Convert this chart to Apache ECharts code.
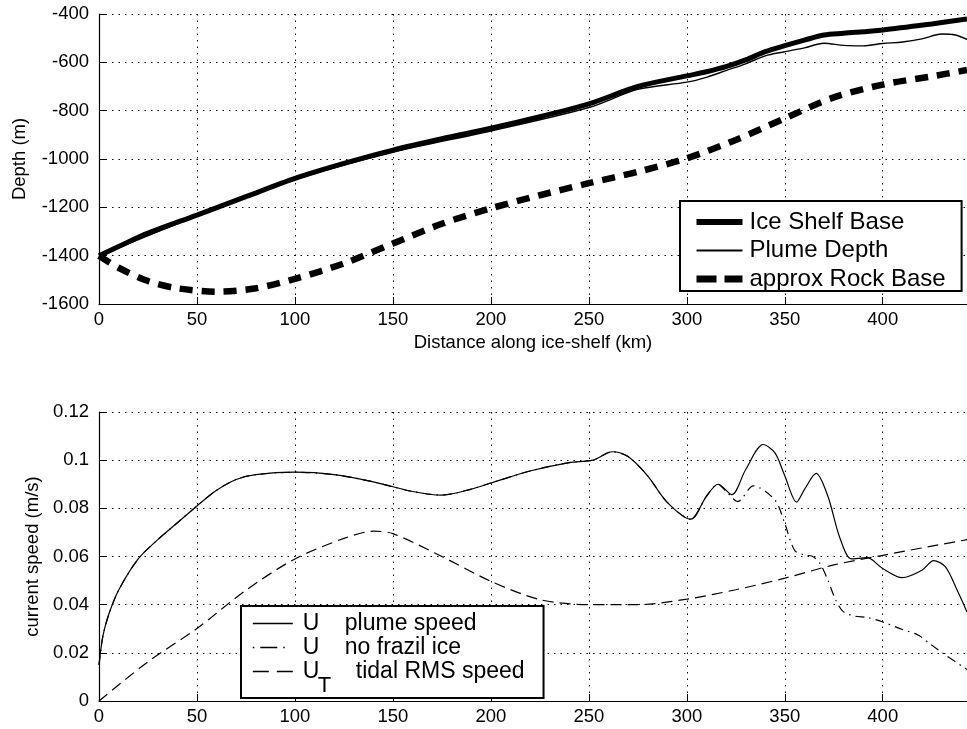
<!DOCTYPE html>
<html>
<head>
<meta charset="utf-8">
<title>Ice shelf plume</title>
<script src="https://cdn.jsdelivr.net/npm/echarts@6/dist/echarts.min.js"></script>
<style>
  html, body { margin: 0; padding: 0; background: #fff; }
  #chart { width: 967px; height: 729px; }
</style>
</head>
<body>
<div id="chart"></div>
<script>
// top panel, depth (m) against distance along the ice shelf (km)
const iceX = [0, 10, 25, 50, 75, 100, 125, 150, 175, 200, 225, 250, 275, 300, 310, 320, 330, 340, 350, 360, 370, 380, 400, 425, 443];
const iceBase = [-1400, -1362, -1307, -1232, -1156, -1080, -1018, -963, -916, -873, -825, -772, -700, -656, -639, -618, -590, -556, -531, -508, -487, -480, -466, -441, -421];

const plumeX = [0, 50, 100, 150, 200, 250, 275, 300, 310, 320, 330, 340, 350, 360, 370, 380, 390, 400, 410, 420, 430, 437, 443];
const plumeDepth = [-1400, -1236, -1085, -972, -884, -787, -712, -682, -662, -634, -606, -573, -556, -540, -521, -530, -532, -522, -516, -503, -483, -487, -505];

const rockX = [0, 10, 25, 40, 60, 80, 100, 125, 150, 175, 200, 225, 250, 275, 300, 325, 350, 375, 400, 425, 443];
const rockBase = [-1400, -1450, -1505, -1535, -1549, -1535, -1496, -1432, -1350, -1268, -1204, -1150, -1100, -1053, -997, -921, -832, -745, -692, -658, -632];

// bottom panel, current speed (m/s)
const speedX = [0, 2, 5, 10, 20, 30, 40, 50, 60, 70, 80, 100, 120, 140, 160, 175, 190, 200, 220, 240, 252, 262, 270, 280, 290, 302, 310, 316, 323, 330, 339, 345, 350, 356, 360, 366, 372, 378, 384, 392, 400, 410, 420, 426, 432, 438, 443];
const plumeSpeed = [0.015, 0.027, 0.036, 0.046, 0.059, 0.067, 0.074, 0.081, 0.0875, 0.092, 0.094, 0.095, 0.094, 0.091, 0.087, 0.0855, 0.088, 0.0905, 0.0955, 0.099, 0.1, 0.1035, 0.1015, 0.0935, 0.0825, 0.0755, 0.085, 0.09, 0.0857, 0.096, 0.1065, 0.103, 0.0935, 0.0826, 0.0878, 0.0945, 0.085, 0.068, 0.059, 0.0595, 0.055, 0.0512, 0.0543, 0.0583, 0.0557, 0.046, 0.037];

const noFrazilX = [0, 2, 5, 10, 20, 30, 40, 50, 60, 70, 80, 100, 120, 140, 160, 175, 190, 200, 220, 240, 252, 262, 270, 280, 290, 302, 310, 316, 320, 326, 334, 345, 350, 355, 360, 364, 368, 372, 376, 380, 386, 392, 400, 410, 418, 425, 432, 443];
const noFrazilSpeed = [0.015, 0.027, 0.036, 0.046, 0.059, 0.067, 0.074, 0.081, 0.0875, 0.092, 0.094, 0.095, 0.094, 0.091, 0.087, 0.0855, 0.088, 0.0905, 0.0955, 0.099, 0.1, 0.1035, 0.1015, 0.0935, 0.0825, 0.0755, 0.085, 0.09, 0.0871, 0.0828, 0.0893, 0.0834, 0.0737, 0.0626, 0.0606, 0.0601, 0.0571, 0.0502, 0.0419, 0.037, 0.0352, 0.0347, 0.0328, 0.0297, 0.0274, 0.0232, 0.0191, 0.0131];

const tidalX = [0, 25, 50, 75, 100, 125, 140, 150, 175, 200, 225, 250, 275, 300, 325, 350, 375, 400, 425, 443];
const tidalSpeed = [0, 0.0163, 0.0301, 0.046, 0.059, 0.0675, 0.0705, 0.0695, 0.06, 0.0497, 0.0421, 0.04, 0.04, 0.0423, 0.0462, 0.051, 0.0565, 0.0605, 0.0643, 0.067];

const xTicks = { min: 0, max: 443, interval: 50 };
const depthTicks = { min: -1600, max: -400, interval: 200 };
const speedTicks = { min: 0, max: 0.12, interval: 0.02 };

const font = "'Liberation Sans', Arial, Helvetica, sans-serif";
const pairs = (xs, ys) => xs.map((x, i) => [x, ys[i]]);

const chart = echarts.init(document.getElementById('chart'));

const axisCommon = {
  axisLine: { lineStyle: { color: '#000', width: 1.2 } },
  axisTick: { inside: true, length: 7, lineStyle: { color: '#000' } },
  splitLine: { show: true, lineStyle: { color: '#000', width: 1, type: [1.5, 5] } },
  nameTextStyle: { color: '#000', fontSize: 18.5, fontFamily: font }
};

const xAxisFor = (gridIndex, extra) => Object.assign({
  type: 'value',
  gridIndex: gridIndex,
  min: xTicks.min,
  max: xTicks.max,
  interval: xTicks.interval,
  axisLabel: { color: '#000', fontSize: 18.5, fontFamily: font, margin: 6, showMaxLabel: false }
}, axisCommon, extra);

// legend icons are just the line, no marker
const noMarker = { color: 'rgba(0,0,0,0)', borderWidth: 0, opacity: 0 };
const txt = { fontSize: 23, lineHeight: 23, fontFamily: font, color: '#000' };

const option = {
  animation: false,
  backgroundColor: '#fff',
  grid: [
    { left: 99, right: 0, top: 14, height: 290 },
    { left: 99, right: 0, top: 412, height: 289 }
  ],
  xAxis: [
    xAxisFor(0, { name: 'Distance along ice-shelf (km)', nameLocation: 'middle', nameGap: 29 }),
    xAxisFor(1, {})
  ],
  yAxis: [
    Object.assign({
      type: 'value',
      gridIndex: 0,
      min: depthTicks.min,
      max: depthTicks.max,
      interval: depthTicks.interval,
      name: 'Depth (m)',
      nameLocation: 'middle',
      nameGap: 70,
      axisLabel: { color: '#000', fontSize: 18.5, fontFamily: font, margin: 10, formatter: v => String(v) }
    }, axisCommon),
    Object.assign({
      type: 'value',
      gridIndex: 1,
      min: speedTicks.min,
      max: speedTicks.max,
      interval: speedTicks.interval,
      name: 'current speed (m/s)',
      nameLocation: 'middle',
      nameGap: 52,
      axisLabel: { color: '#000', fontSize: 18.5, fontFamily: font, margin: 10, formatter: v => String(Math.round(v * 100) / 100) }
    }, axisCommon)
  ],
  legend: [
    {
      orient: 'vertical',
      left: 680,
      top: 201,
      padding: [9, 16, 0, 13],
      borderColor: '#000',
      borderWidth: 2,
      backgroundColor: '#fff',
      itemWidth: 46,
      itemHeight: 14,
      itemGap: 4.5,
      selectedMode: false,
      itemStyle: noMarker,
      textStyle: { color: '#000', fontSize: 24, lineHeight: 24, fontFamily: font, padding: [0, 0, 0, 2] },
      data: [
        { name: 'Ice Shelf Base', lineStyle: { color: '#000', width: 6, type: 'solid' } },
        { name: 'Plume Depth', lineStyle: { color: '#000', width: 2, type: 'solid' } },
        { name: 'approx Rock Base', lineStyle: { color: '#000', width: 7, type: [20, 8] } }
      ]
    },
    {
      orient: 'vertical',
      left: 241,
      top: 606,
      padding: [6, 19, 1, 11],
      borderColor: '#000',
      borderWidth: 2,
      backgroundColor: '#fff',
      itemWidth: 40,
      itemHeight: 14,
      itemGap: 1,
      selectedMode: false,
      itemStyle: noMarker,
      textStyle: {
        color: '#000', fontSize: 23, lineHeight: 23, fontFamily: font, padding: [0, 0, 0, 5],
        rich: {
          u: Object.assign({ width: 42 }, txt),
          t: Object.assign({}, txt),
          ut: Object.assign({ width: 15, verticalAlign: 'top' }, txt),
          sub: Object.assign({}, txt, { width: 38, fontSize: 22, padding: [15, 0, 0, 0], verticalAlign: 'top' }),
          t3: Object.assign({ verticalAlign: 'top' }, txt)
        }
      },
      formatter: function (name) {
        if (name === 'U plume speed') return '{u|U}{t|plume speed}';
        if (name === 'U no frazil ice') return '{u|U}{t|no frazil ice}';
        return '{ut|U}{sub|T}{t3|tidal RMS speed}';
      },
      data: [
        { name: 'U plume speed', lineStyle: { color: '#000', width: 1.6, type: 'solid' } },
        { name: 'U no frazil ice', lineStyle: { color: '#000', width: 1.6, type: [1.5, 6, 17, 6, 1.5, 20] } },
        { name: 'U_T tidal RMS speed', lineStyle: { color: '#000', width: 1.6, type: [16, 8] } }
      ]
    }
  ],
  series: [
    {
      name: 'approx Rock Base', type: 'line', xAxisIndex: 0, yAxisIndex: 0,
      data: pairs(rockX, rockBase), symbol: 'none', smooth: 0.3,
      lineStyle: { color: '#000', width: 6.5, type: [13, 9] }
    },
    {
      name: 'Ice Shelf Base', type: 'line', xAxisIndex: 0, yAxisIndex: 0,
      data: pairs(iceX, iceBase), symbol: 'none', smooth: 0.3,
      lineStyle: { color: '#000', width: 5 }
    },
    {
      name: 'Plume Depth', type: 'line', xAxisIndex: 0, yAxisIndex: 0,
      data: pairs(plumeX, plumeDepth), symbol: 'none', smooth: 0.3,
      lineStyle: { color: '#000', width: 1.4 }
    },
    {
      name: 'U_T tidal RMS speed', type: 'line', xAxisIndex: 1, yAxisIndex: 1,
      data: pairs(tidalX, tidalSpeed), symbol: 'none', smooth: 0.3,
      lineStyle: { color: '#000', width: 1.2, type: [11, 6] }
    },
    {
      name: 'U no frazil ice', type: 'line', xAxisIndex: 1, yAxisIndex: 1,
      data: pairs(noFrazilX, noFrazilSpeed), symbol: 'none', smooth: 0.3,
      lineStyle: { color: '#000', width: 1.2, type: [9, 5, 1.5, 5] }
    },
    {
      name: 'U plume speed', type: 'line', xAxisIndex: 1, yAxisIndex: 1,
      data: pairs(speedX, plumeSpeed), symbol: 'none', smooth: 0.3,
      lineStyle: { color: '#000', width: 1.2 }
    }
  ]
};

chart.setOption(option);
</script>
</body>
</html>
